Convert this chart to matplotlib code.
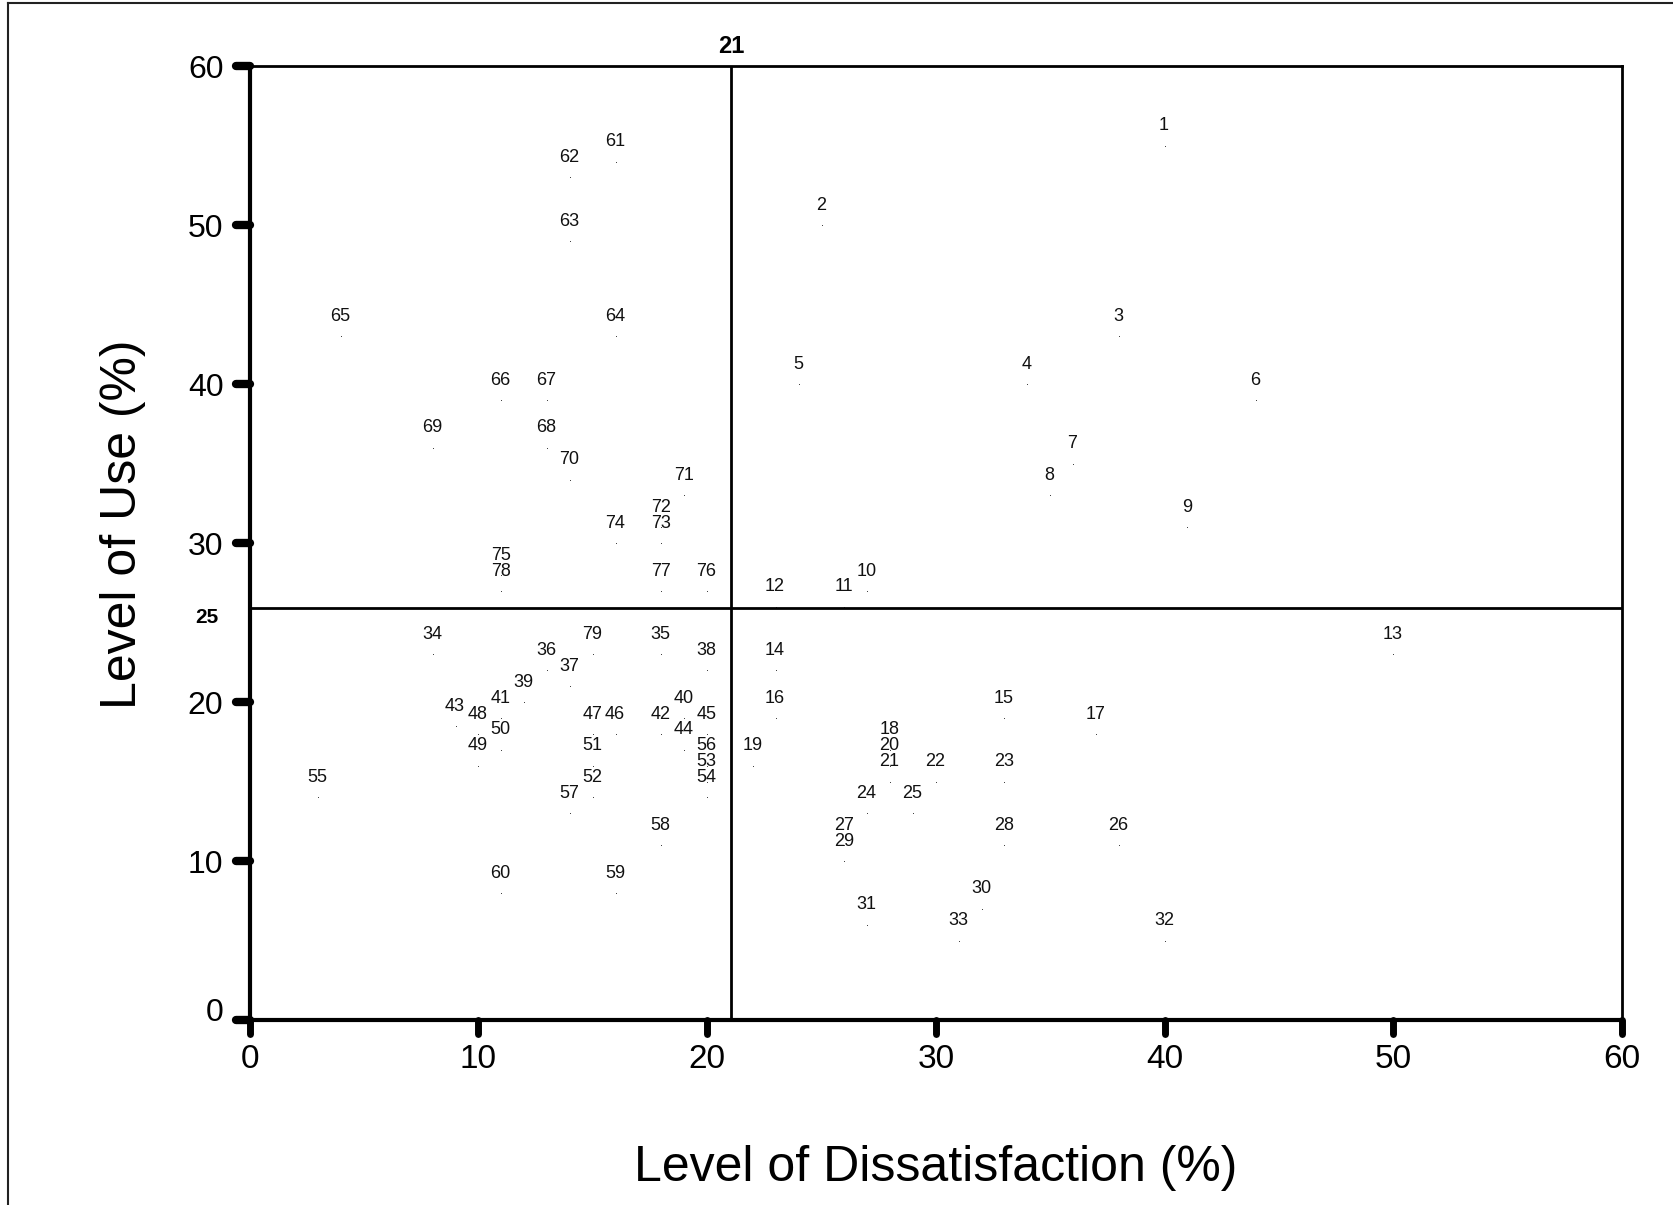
import matplotlib.pyplot as plt
from matplotlib.lines import Line2D
from matplotlib.markers import MarkerStyle, TICKLEFT, TICKDOWN
import matplotlib.transforms as mtransforms

plt.rcParams['font.family'] = ['Liberation Sans', 'DejaVu Sans']

# item numbers with their (dissatisfaction %, use %) values
item_ids = list(range(1, 80))
dissatisfaction = [40, 25, 38, 34, 24, 44, 36, 35, 41, 27,
                   26, 23, 50, 23, 33, 23, 37, 28, 22, 28,
                   28, 30, 33, 27, 29, 38, 26, 33, 26, 32,
                   27, 40, 31, 8, 18, 13, 14, 20, 12, 19,
                   11, 18, 9, 19, 20, 16, 15, 10, 10, 11,
                   15, 15, 20, 20, 3, 20, 14, 18, 16, 11,
                   16, 14, 14, 16, 4, 11, 13, 13, 8, 14,
                   19, 18, 18, 16, 11, 20, 18, 11, 15]
use = [55, 50, 43, 40, 40, 39, 35, 33, 31, 27,
       26, 26, 23, 22, 19, 19, 18, 17, 16, 16,
       15, 15, 15, 13, 13, 11, 11, 11, 10, 7,
       6, 5, 5, 23, 23, 22, 21, 22, 20, 19,
       19, 18, 18.5, 17, 18, 18, 18, 18, 16, 17,
       16, 14, 15, 14, 14, 16, 13, 11, 8, 8,
       54, 53, 49, 43, 43, 39, 39, 36, 36, 34,
       33, 31, 30, 30, 28, 27, 27, 27, 23]

# quadrant split (mean values) and the labels shown for them
split_x, split_x_label = 21.06, "21"
split_y, split_y_label = 25.9, "25"

ticks = [0, 10, 20, 30, 40, 50, 60]

fig = plt.figure(figsize=(16.73, 12.05), dpi=100)
ax = fig.add_axes([0.1493, 0.1535, 0.8202, 0.7916])

# points and their number labels
ax.plot(dissatisfaction, use, linestyle='none', marker='s', markersize=0.7,
        markeredgewidth=0, color='#444444')
for i, xv, yv in zip(item_ids, dissatisfaction, use):
    ax.annotate(str(i), (xv, yv), xytext=(-0.5, 11), textcoords='offset points',
                ha='center', va='baseline', fontsize=13, color='#111111')

# quadrant lines
ax.axvline(split_x, color='black', linewidth=2)
ax.axhline(split_y, color='black', linewidth=2)

tr_x = mtransforms.blended_transform_factory(ax.transData, ax.transAxes)
tr_y = mtransforms.blended_transform_factory(ax.transAxes, ax.transData)
ax.text(split_x, 1.009, split_x_label, transform=tr_x, ha='center',
        va='bottom', fontsize=17, fontweight='bold')
ax.text(-0.031, split_y, split_y_label, transform=tr_y, ha='center',
        va='top', fontsize=15, fontweight='bold')

ax.set_xlim(0, 60)
ax.set_ylim(0, 60)
ax.set_xticks(ticks)
ax.set_yticks(ticks)
ax.tick_params(axis='x', labelsize=24, length=10, width=5, pad=7,
               direction='out')
ax.tick_params(axis='y', labelsize=23, length=10, width=6, pad=9,
               direction='out')
for t in ax.xaxis.get_major_ticks():
    t.tick1line.set_marker(MarkerStyle(TICKDOWN, capstyle='round'))
for t in ax.yaxis.get_major_ticks():
    t.tick1line.set_marker(MarkerStyle(TICKLEFT, capstyle='round'))

# the y "0" label sits a little above its tick
zero_lab = ax.yaxis.get_major_ticks()[0].label1
zero_lab.set_transform(zero_lab.get_transform() +
                       mtransforms.ScaledTranslation(0, 0.11, fig.dpi_scale_trans))

for side in ['left', 'bottom']:
    ax.spines[side].set_linewidth(3)
for side in ['top', 'right']:
    ax.spines[side].set_linewidth(2)

ax.set_xlabel("Level of Dissatisfaction (%)", fontsize=36)
ax.set_ylabel("Level of Use (%)", fontsize=36)
ax.xaxis.set_label_coords(0.5, -0.131)
ax.yaxis.set_label_coords(-0.0755, 0.52)

# partial frame around the picture (left and top edges only)
fig.add_artist(Line2D([0.005, 0.005], [0, 0.9975], color='#222222',
                      linewidth=1.5, transform=fig.transFigure))
fig.add_artist(Line2D([0.005, 1.0], [0.9975, 0.9975], color='#222222',
                      linewidth=1.5, transform=fig.transFigure))

fig.savefig('out.png', dpi=100, facecolor='white')
